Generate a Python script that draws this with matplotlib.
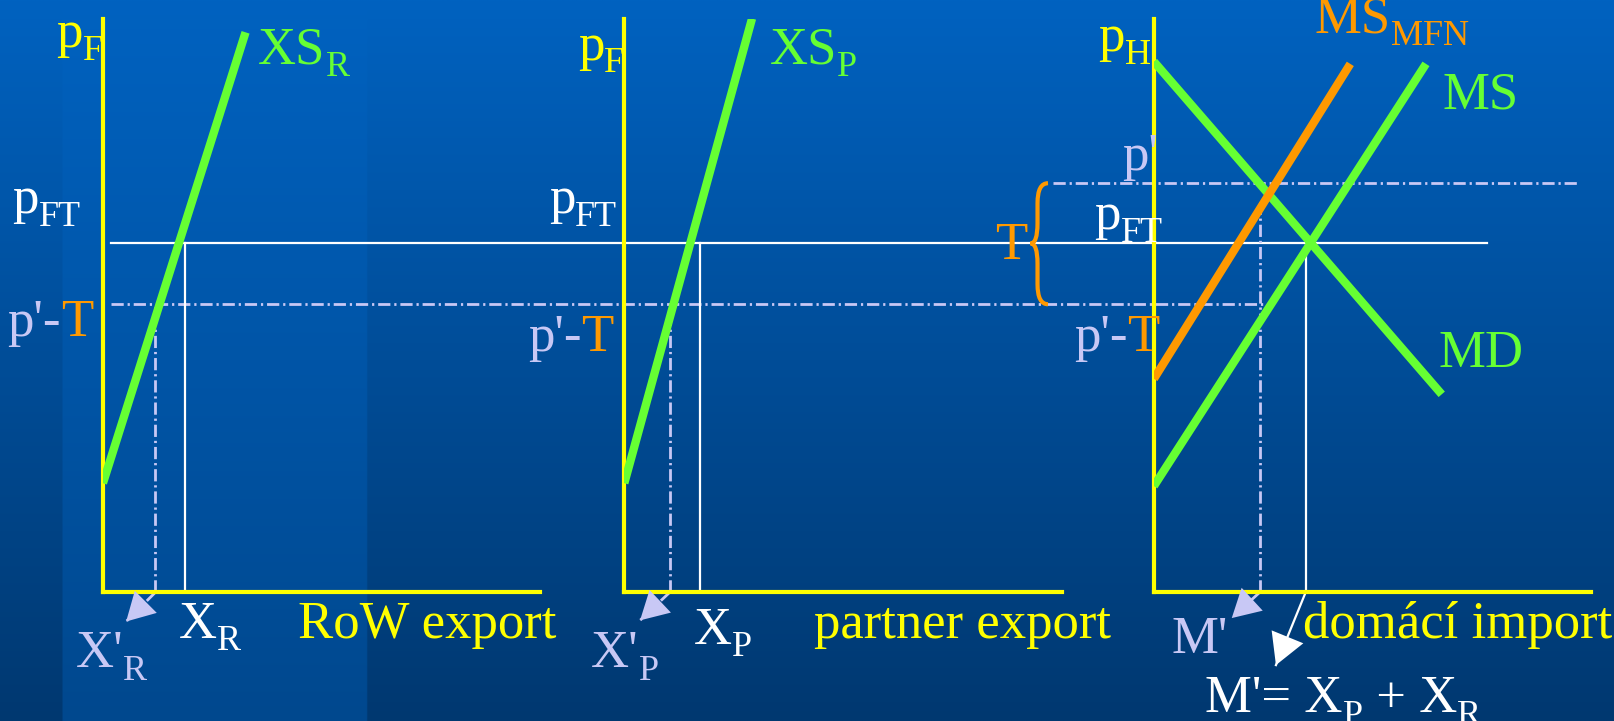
import numpy as np
import matplotlib
matplotlib.use("Agg")
import matplotlib.pyplot as plt
from matplotlib import transforms as mtransforms
from matplotlib.path import Path
from matplotlib.patches import PathPatch

plt.rcParams['font.family'] = ['Liberation Serif', 'DejaVu Serif']

# price levels (shared by all three panels)
p_ft = 6.08
p_prime = 7.13
p_prime_t = 5.02

# panel 1: RoW export supply
xs_r_q = [0.0, 3.26]
xs_r_p = [1.9, 9.76]
x_r = 1.88
x_r_prime = 1.2

# panel 2: partner export supply
xs_p_q = [0.0, 2.92]
xs_p_p = [1.9, 10.0]
x_p = 1.73
x_p_prime = 1.04

# panel 3: home import market
md_q = [0.0, 6.58]
md_p = [9.25, 3.45]
ms_q = [0.0, 6.22]
ms_p = [1.85, 9.21]
ms_mfn_q = [0.0, 4.49]
ms_mfn_p = [3.72, 9.21]
m_prime = 2.42
m_prime_top = 6.85
m_total = 3.47

YELLOW = '#ffff00'
GREEN = '#66ff33'
ORANGE = '#ff9900'
WHITE = '#ffffff'
LAV = '#c8c8f5'
FS = 38
FSS = 26
SUBDY = -9
DASHDOT = (0, (4.4, 1.4, 0.8, 1.4))
DD_LW = 2.0
CURVE_LW = 6

fig = plt.figure(figsize=(16.14, 7.21), dpi=100)

# background gradient with the lighter band on the left
bg = fig.add_axes([0, 0, 1, 1], zorder=-1)
h, w = 300, 800
t = np.linspace(0, 1, h)[:, None]
top = np.array([0, 98, 192]) / 255
bot = np.array([0, 56, 112]) / 255
band_bot = np.array([0, 72, 142]) / 255
img = np.zeros((h, w, 3))
img[:] = (top * (1 - t[..., None]) + bot * t[..., None])
xs = np.linspace(0, 1, w)
band = (xs > 0.0384) & (xs < 0.2268)
img[:, band] = (top * (1 - t[..., None]) + band_bot * t[..., None])
bg.imshow(img, extent=[0, 1, 0, 1], aspect='auto', origin='upper')
bg.axis('off')

lefts = [0.06378, 0.38680, 0.71492]
axes = []
for left in lefts:
    ax = fig.add_axes([left, 0.17857, 0.27105, 0.79571])
    ax.set_xlim(0, 10)
    ax.set_ylim(0, 10)
    ax.set_facecolor('none')
    for side in ['top', 'right']:
        ax.spines[side].set_visible(False)
    for side in ['left', 'bottom']:
        ax.spines[side].set_color(YELLOW)
        ax.spines[side].set_linewidth(3)
    ax.set_xticks([])
    ax.set_yticks([])
    axes.append(ax)
ax1, ax2, ax3 = axes

renderer = fig.canvas.get_renderer()


def rich(ax, x, y, parts, ha='left'):
    # pieces of text laid side by side (subscripts, two-colour labels)
    placed = []
    dx = 0.0
    for s, color, size, dy in parts:
        tr = mtransforms.offset_copy(ax.transData, fig=fig, x=dx, y=dy, units='points')
        txt = ax.text(x, y, s, color=color, fontsize=size, transform=tr,
                      ha='left', va='baseline', zorder=6, clip_on=False)
        wpt = txt.get_window_extent(renderer).width * 72.0 / fig.dpi
        placed.append((txt, dx, dy))
        dx += wpt
    if ha == 'right':
        for txt, d0, dy in placed:
            txt.set_transform(mtransforms.offset_copy(ax.transData, fig=fig, x=d0 - dx,
                                                      y=dy, units='points'))


def arrow_head(ax, start, tip, color, size=40):
    mid = (start[0] + 0.3 * (tip[0] - start[0]), start[1] + 0.3 * (tip[1] - start[1]))
    ax.annotate('', xy=tip, xytext=mid,
                arrowprops=dict(arrowstyle='-|>,head_length=0.5,head_width=0.28',
                                mutation_scale=size, color=color,
                                lw=0, shrinkA=0, shrinkB=0),
                annotation_clip=False, zorder=6)


# horizontal levels running across the panels
blend = mtransforms.blended_transform_factory(fig.transFigure, ax1.transData)
ax1.plot([0.0686, 0.9213], [p_ft, p_ft], color=WHITE, lw=1.6, transform=blend,
         clip_on=False, zorder=1.5)
ax1.plot([0.0686, 0.785], [p_prime_t, p_prime_t], color=LAV, lw=DD_LW, ls=DASHDOT,
         transform=blend, clip_on=False, zorder=1.5)
ax1.plot([0.6524, 0.9787], [p_prime, p_prime], color=LAV, lw=DD_LW, ls=DASHDOT,
         transform=blend, clip_on=False, zorder=1.5)

# panel 1
ax1.plot(xs_r_q, xs_r_p, color=GREEN, lw=CURVE_LW, zorder=3, solid_capstyle='butt')
ax1.plot([x_r, x_r], [0, p_ft], color=WHITE, lw=1.6, zorder=1.5)
ax1.plot([x_r_prime, x_r_prime], [0, p_prime_t], color=LAV, lw=DD_LW, ls=DASHDOT, zorder=1.5)
tip1 = (0.53, -0.51)
ax1.plot([x_r_prime, tip1[0]], [0, tip1[1]], color=LAV, lw=DD_LW, ls=DASHDOT, clip_on=False)
arrow_head(ax1, (x_r_prime, 0), tip1, LAV)
rich(ax1, 0.0, 9.5, [('p', YELLOW, FS, 0), ('F', YELLOW, FSS, SUBDY)], ha='right')
rich(ax1, 3.55, 9.22, [('XS', GREEN, FS, 0), ('R', GREEN, FSS, SUBDY)])
rich(ax1, -2.07, 6.61, [('p', WHITE, FS, 0), ('FT', WHITE, FSS, SUBDY)])
rich(ax1, -2.19, 4.47, [("p'-", LAV, FS, 0), ('T', ORANGE, FS, 0)])
rich(ax1, -0.62, -1.31, [("X'", LAV, FS, 0), ('R', LAV, FSS, SUBDY)])
rich(ax1, 1.74, -0.79, [('X', WHITE, FS, 0), ('R', WHITE, FSS, SUBDY)])
rich(ax1, 4.47, -0.79, [('RoW export', YELLOW, FS, 0)])

# panel 2
ax2.plot(xs_p_q, xs_p_p, color=GREEN, lw=CURVE_LW, zorder=3, solid_capstyle='butt')
ax2.plot([x_p, x_p], [0, p_ft], color=WHITE, lw=1.6, zorder=1.5)
ax2.plot([x_p_prime, x_p_prime], [0, p_prime_t], color=LAV, lw=DD_LW, ls=DASHDOT, zorder=1.5)
tip2 = (0.36, -0.49)
ax2.plot([x_p_prime, tip2[0]], [0, tip2[1]], color=LAV, lw=DD_LW, ls=DASHDOT, clip_on=False)
arrow_head(ax2, (x_p_prime, 0), tip2, LAV)
rich(ax2, 0.0, 9.28, [('p', YELLOW, FS, 0), ('F', YELLOW, FSS, SUBDY)], ha='right')
rich(ax2, 3.33, 9.22, [('XS', GREEN, FS, 0), ('P', GREEN, FSS, SUBDY)])
rich(ax2, -1.72, 6.61, [('p', WHITE, FS, 0), ('FT', WHITE, FSS, SUBDY)])
rich(ax2, -2.2, 4.2, [("p'-", LAV, FS, 0), ('T', ORANGE, FS, 0)])
rich(ax2, -0.76, -1.31, [("X'", LAV, FS, 0), ('P', LAV, FSS, SUBDY)])
rich(ax2, 1.59, -0.9, [('X', WHITE, FS, 0), ('P', WHITE, FSS, SUBDY)])
rich(ax2, 4.34, -0.79, [('partner export', YELLOW, FS, 0)])

# panel 3
ax3.plot(md_q, md_p, color=GREEN, lw=CURVE_LW, zorder=3, solid_capstyle='butt')
ax3.plot(ms_q, ms_p, color=GREEN, lw=CURVE_LW, zorder=3, solid_capstyle='butt')
ax3.plot(ms_mfn_q, ms_mfn_p, color=ORANGE, lw=CURVE_LW, zorder=3.2, solid_capstyle='butt')
ax3.plot([m_total, m_total], [0, p_ft], color=WHITE, lw=1.6, zorder=1.5)
ax3.plot([m_prime, m_prime], [0, m_prime_top], color=LAV, lw=DD_LW, ls=DASHDOT, zorder=1.5)
tip3 = (1.78, -0.45)
ax3.plot([m_prime, tip3[0]], [0, tip3[1]], color=LAV, lw=DD_LW, ls=DASHDOT, clip_on=False)
arrow_head(ax3, (m_prime, 0), tip3, LAV)
tip4 = (2.79, -1.27)
ax3.plot([m_total, tip4[0]], [0, tip4[1]], color=WHITE, lw=1.6, clip_on=False)
arrow_head(ax3, (m_total, 0), tip4, WHITE, size=44)

# brace marking the tariff T between p' and p'-T
xr, xm, xl = -2.42, -2.66, -2.82
r = 0.35
verts = [(xr, p_prime), (xm, p_prime), (xm, p_prime - r),
         (xm, p_ft + r),
         (xm, p_ft), (xl, p_ft),
         (xm, p_ft), (xm, p_ft - r),
         (xm, p_prime_t + r),
         (xm, p_prime_t), (xr, p_prime_t)]
codes = [Path.MOVETO, Path.CURVE3, Path.CURVE3, Path.LINETO,
         Path.CURVE3, Path.CURVE3, Path.CURVE3, Path.CURVE3,
         Path.LINETO, Path.CURVE3, Path.CURVE3]
ax3.add_patch(PathPatch(Path(verts, codes), fill=False, edgecolor=ORANGE, lw=3,
                        clip_on=False, zorder=4))

rich(ax3, -1.27, 9.43, [('p', YELLOW, FS, 0), ('H', YELLOW, FSS, SUBDY)])
rich(ax3, 3.67, 9.76, [('MS', ORANGE, FS, 0), ('MFN', ORANGE, FSS, SUBDY)])
rich(ax3, 6.59, 8.44, [('MS', GREEN, FS, 0)])
rich(ax3, 6.5, 3.93, [('MD', GREEN, FS, 0)])
rich(ax3, -0.72, 7.36, [("p'", LAV, FS, 0)])
rich(ax3, -1.36, 6.33, [('p', WHITE, FS, 0), ('FT', WHITE, FSS, SUBDY)])
rich(ax3, -1.83, 4.2, [("p'-", LAV, FS, 0), ('T', ORANGE, FS, 0)])
rich(ax3, -3.62, 5.81, [('T', ORANGE, FS, 0)])
rich(ax3, 0.41, -1.06, [("M'", LAV, FS, 0)])
rich(ax3, 3.41, -0.79, [('domácí import', YELLOW, FS, 0)])
rich(ax3, 1.17, -2.09, [("M'= X", WHITE, FS, 0), ('P', WHITE, FSS, SUBDY),
                        (' + X', WHITE, FS, 0), ('R', WHITE, FSS, SUBDY)])

fig.savefig('out.png', dpi=100)
